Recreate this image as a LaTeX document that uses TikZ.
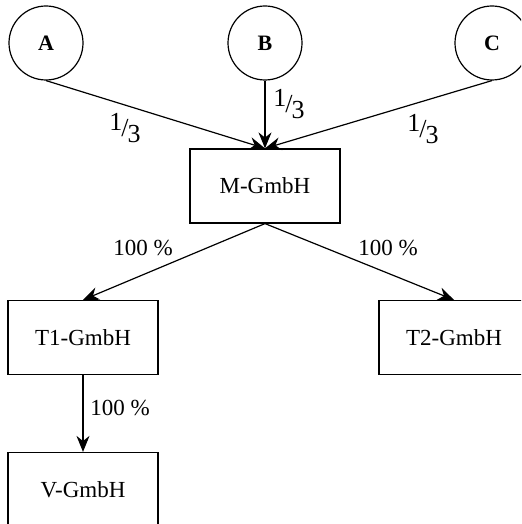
\documentclass[tikz,border=0pt]{standalone}
\usepackage{fontspec}
\setmainfont{Liberation Serif}
\usepackage{tikz}
\usetikzlibrary{arrows.meta}

\newcommand{\drittel}{\raisebox{0.5ex}{1}\kern-0.5pt/\kern-0.5pt\raisebox{-0.5ex}{3}}

\tikzset{
  gesellschafter/.style={draw, circle, minimum size=37pt, inner sep=0pt, font=\fontsize{11}{13}\selectfont\bfseries},
  firma/.style={draw, rectangle, minimum width=75pt, minimum height=37pt, font=\fontsize{11.5}{14}\selectfont},
  anteil/.style={font=\fontsize{11.5}{14}\selectfont, inner sep=0pt},
  bruch/.style={anteil, font=\fontsize{13}{15}\selectfont},
  pfeil/.style={-{Stealth[length=8pt,width=6.5pt]}}
}

\begin{document}
\begin{tikzpicture}[x=0.5pt, y=0.5pt, line width=0.6pt]
\useasboundingbox (0,0) rectangle (521,524);
\clip (0,0) rectangle (521,524);
% Gesellschafter
\node[gesellschafter] (A) at (46,481) {A};
\node[gesellschafter] (B) at (265,481) {B};
\node[gesellschafter] (C) at (492,481) {C};
% Gesellschaften
\node[firma] (M) at (265,338) {M-GmbH};
\node[firma] (T1) at (83,186.5) {T1-GmbH};
\node[firma] (T2) at (454,186.5) {T2-GmbH};
\node[firma] (V) at (83,34.5) {V-GmbH};
% Beteiligungen
\draw[pfeil] (A.south) -- (M.north);
\draw[pfeil] (B.south) -- (M.north);
\draw[pfeil] (C.south) -- (M.north);
\draw[pfeil] (M.south) -- (T1.north);
\draw[pfeil] (M.south) -- (T2.north);
\draw[pfeil] (T1.south) -- (V.north);
\node[bruch] (qA) at (125,396) {\drittel};
\node[bruch] (qB) at (289,420) {\drittel};
\node[bruch] (qC) at (423,395) {\drittel};
\node[anteil] (pT1) at (143,276) {100 \%};
\node[anteil] (pT2) at (388,276) {100 \%};
\node[anteil] (pV) at (120,116) {100 \%};
\end{tikzpicture}
\end{document}
